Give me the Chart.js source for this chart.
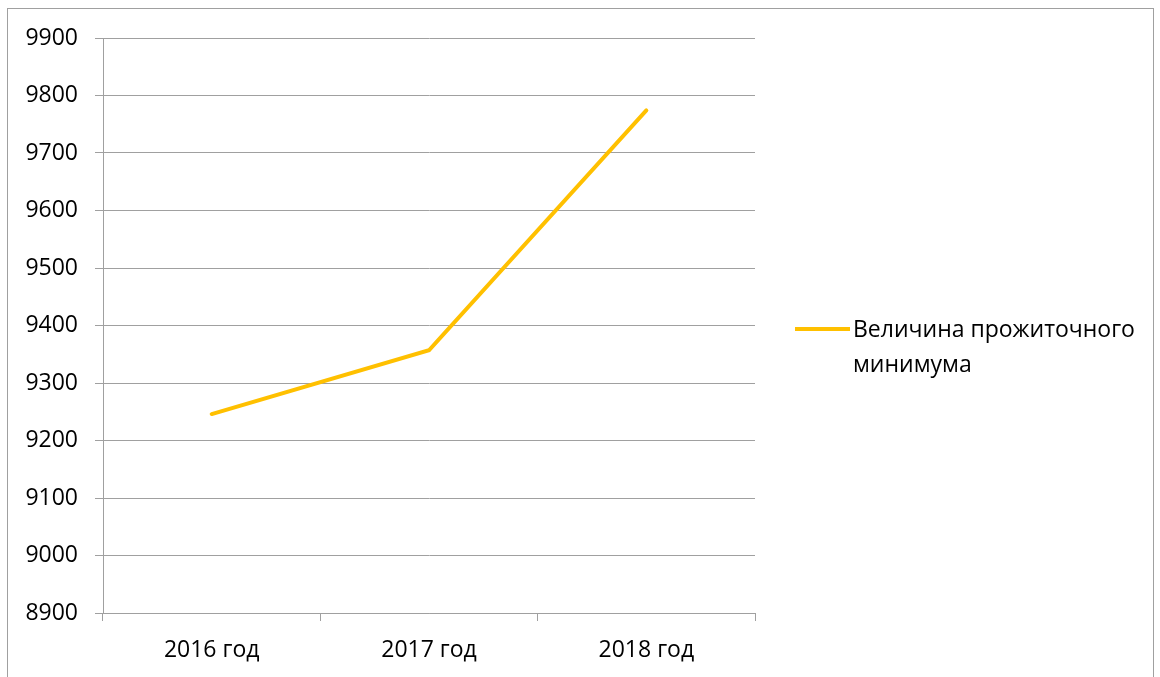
<!DOCTYPE html>
<html>
<head>
<meta charset="utf-8">
<script src="https://cdn.jsdelivr.net/npm/chart.js@4"></script>
<style>
  html, body { margin: 0; padding: 0; background: #ffffff; }
  #wrap { position: relative; width: 1160px; height: 677px; overflow: hidden; }
  #frame { position: absolute; left: 7px; top: 8px; width: 1147px; height: 720px; border: 1px solid #a0a0a0; box-sizing: border-box; }
  canvas { position: absolute; left: 0; top: 0; }
</style>
</head>
<body>
<div id="wrap">
  <div id="frame"></div>
  <canvas id="c" width="1160" height="677"></canvas>
</div>
<script>
const categories = ['2016 год', '2017 год', '2018 год'];
const seriesName = ['Величина прожиточного', 'минимума'];
const seriesValues = [9246, 9357, 9774];
const yMin = 8900;
const yMax = 9900;
const yStep = 100;

const FONT = '"Open Sans", "Noto Sans", sans-serif';
const FONT_SIZE = 23;
const LINE_COLOR = '#FFC000';
const GRID_COLOR = '#a0a0a0';

const legendPlugin = {
  id: 'sideLegend',
  afterDraw(chart) {
    const ctx = chart.ctx;
    ctx.save();
    ctx.strokeStyle = LINE_COLOR;
    ctx.lineWidth = 4;
    ctx.lineCap = 'butt';
    ctx.beginPath();
    ctx.moveTo(795, 329);
    ctx.lineTo(850, 329);
    ctx.stroke();
    ctx.fillStyle = '#000000';
    ctx.font = FONT_SIZE + 'px ' + FONT;
    ctx.textBaseline = 'middle';
    ctx.textAlign = 'left';
    seriesName.forEach((t, i) => ctx.fillText(t, 853, 330 + i * 35));
    ctx.restore();
  }
};

new Chart(document.getElementById('c'), {
  type: 'line',
  data: {
    labels: categories,
    datasets: [{
      label: seriesName.join(' '),
      data: seriesValues,
      borderColor: LINE_COLOR,
      backgroundColor: LINE_COLOR,
      borderWidth: 4,
      pointRadius: 0,
      tension: 0,
      borderCapStyle: 'round'
    }]
  },
  options: {
    responsive: false,
    animation: false,
    devicePixelRatio: 1,
    layout: { padding: { left: 0, right: 405, top: 38, bottom: 0 } },
    plugins: { legend: { display: false }, tooltip: { enabled: false } },
    scales: {
      x: {
        offset: true,
        grid: { offset: true, drawOnChartArea: false, color: GRID_COLOR, tickLength: 8, lineWidth: 1 },
        border: { color: GRID_COLOR, width: 1 },
        ticks: { color: '#000000', font: { family: FONT, size: FONT_SIZE }, padding: 16, maxRotation: 0 },
        afterFit(s) { s.height = 64; }
      },
      y: {
        min: yMin,
        max: yMax,
        grid: { color: GRID_COLOR, tickLength: 8, lineWidth: 1 },
        border: { color: GRID_COLOR, width: 1 },
        ticks: { stepSize: yStep, color: '#000000', font: { family: FONT, size: FONT_SIZE }, padding: 17,
                 callback: v => String(v) },
        afterFit(s) { s.width = 103; }
      }
    }
  },
  plugins: [legendPlugin]
});
</script>
</body>
</html>
